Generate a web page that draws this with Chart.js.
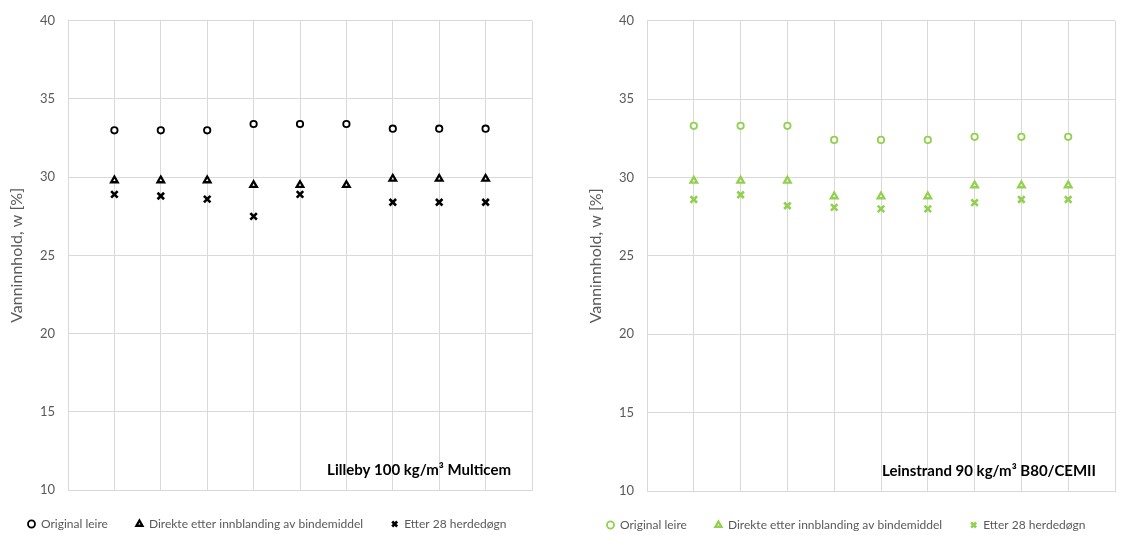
<!DOCTYPE html>
<html>
<head>
<meta charset="utf-8">
<script src="https://cdn.jsdelivr.net/npm/chart.js@4/dist/chart.umd.min.js"></script>
<style>
  html, body { margin: 0; padding: 0; background: #fff; overflow: hidden; width: 1124px; height: 535px; }
  canvas { position: absolute; top: 0; }
  #chart-lilleby { left: 0; }
  #chart-leinstrand { left: 579px; }
</style>
</head>
<body>
<canvas id="chart-lilleby" width="568" height="535"></canvas>
<canvas id="chart-leinstrand" width="568" height="535"></canvas>
<script>
// Water content (Vanninnhold) per sample, two stabilised clays side by side.

const sampleNo = [1, 2, 3, 4, 5, 6, 7, 8, 9];
const seriesNames = ['Original leire', 'Direkte etter innblanding av bindemiddel', 'Etter 28 herdedøgn'];
const yTicks = [10, 15, 20, 25, 30, 35, 40];

const lillebyOriginal = [33.0, 33.0, 33.0, 33.4, 33.4, 33.4, 33.1, 33.1, 33.1];
const lillebyDirekte  = [29.8, 29.8, 29.8, 29.5, 29.5, 29.5, 29.9, 29.9, 29.9];
const lillebyEtter28  = [28.9, 28.8, 28.6, 27.5, 28.9, null, 28.4, 28.4, 28.4];

const leinstrandOriginal = [33.3, 33.3, 33.3, 32.4, 32.4, 32.4, 32.6, 32.6, 32.6];
const leinstrandDirekte  = [29.8, 29.8, 29.8, 28.8, 28.8, 28.8, 29.5, 29.5, 29.5];
const leinstrandEtter28  = [28.6, 28.9, 28.2, 28.1, 28.0, 28.0, 28.4, 28.6, 28.6];

const FONT = 'Lato, "Open Sans", sans-serif';
const TEXT = '#595959';
const GRID = '#d9d9d9';

function pts(vals) {
  return sampleNo.map((x, i) => ({ x, y: vals[i] })).filter(p => p.y != null);
}

// small label in the lower right corner of the plot area
const cornerLabel = {
  id: 'cornerLabel',
  afterDraw(chart, args, opts) {
    const a = chart.chartArea, ctx = chart.ctx;
    ctx.save();
    ctx.font = 'bold 15px ' + FONT;
    ctx.fillStyle = '#000';
    ctx.textAlign = 'right';
    ctx.textBaseline = 'middle';
    ctx.fillText(opts.text, a.right - opts.dx, a.bottom - opts.dy);
    ctx.restore();
  }
};

// legend: fixed height so the plot keeps its size, and room for one row
const legendFit = {
  id: 'legendFit',
  beforeInit(chart, args, opts) {
    const lg = chart.legend;
    if (!lg) return;
    const fit = lg.fit;
    lg.fit = function () {
      const mw = this.maxWidth;
      this.maxWidth = mw + 120;
      fit.call(lg);
      this.maxWidth = mw;
      this.height = opts.h;
    };
  },
  afterLayout(chart) {
    const lg = chart.legend;
    if (!lg) return;
    lg.right = lg.left + chart.width + 120;
    lg.width = lg.right - lg.left;
  }
};

function makeChart(id, values, color, label, pad) {
  const styles = [
    { pointStyle: 'circle', radius: 3.2, borderWidth: 1.8, backgroundColor: '#fff' },
    { pointStyle: 'triangle', radius: 3.8, borderWidth: 2.3, backgroundColor: '#fff' },
    { pointStyle: 'crossRot', radius: 4.6, borderWidth: 2.6, backgroundColor: color }
  ];
  const datasets = values.map((v, i) => ({
    label: seriesNames[i],
    data: pts(v),
    showLine: false,
    pointStyle: styles[i].pointStyle,
    pointRadius: styles[i].radius,
    pointBorderWidth: styles[i].borderWidth,
    borderWidth: styles[i].borderWidth,
    borderColor: color,
    backgroundColor: styles[i].backgroundColor,
    pointBackgroundColor: styles[i].backgroundColor,
    pointBorderColor: color
  }));

  return new Chart(document.getElementById(id), {
    type: 'scatter',
    data: { datasets },
    plugins: [cornerLabel, legendFit],
    options: {
      responsive: false, animation: false, devicePixelRatio: 1,
      layout: { padding: { left: 0, right: pad.right, top: pad.top, bottom: 0 } },
      plugins: {
        tooltip: { enabled: false },
        cornerLabel: { text: label, dx: pad.labelDx, dy: 20 },
        legendFit: { h: pad.legendH },
        legend: {
          position: 'bottom', align: 'start',
          labels: {
            usePointStyle: true, pointStyleWidth: 7, boxHeight: 5,
            padding: 28, color: TEXT, font: { family: FONT, size: 12 }
          }
        }
      },
      scales: {
        x: {
          type: 'linear', min: 0, max: 10,
          ticks: { display: false, stepSize: 1 },
          grid: { color: GRID, drawTicks: false },
          border: { color: GRID },
          afterFit: s => { s.height = 0; }
        },
        y: {
          min: yTicks[0], max: yTicks[yTicks.length - 1],
          afterBuildTicks: s => { s.ticks = yTicks.map(v => ({ value: v })); },
          ticks: { color: TEXT, padding: 13, font: { family: FONT, size: 13 } },
          grid: { color: GRID, drawTicks: false },
          border: { color: GRID },
          title: {
            display: true, text: 'Vanninnhold, w [%]', color: TEXT,
            font: { family: FONT, size: 16 }, padding: { top: 7, bottom: 0 }
          },
          afterFit: s => { s.width = pad.axisW; }
        }
      }
    }
  });
}

makeChart('chart-lilleby', [lillebyOriginal, lillebyDirekte, lillebyEtter28], '#000000',
  'Lilleby 100 kg/m³ Multicem', { right: 36, top: 20, axisW: 68, legendH: 45, labelDx: 21 });
makeChart('chart-leinstrand', [leinstrandOriginal, leinstrandDirekte, leinstrandEtter28], '#92D050',
  'Leinstrand 90 kg/m³ B80/CEMII', { right: 32, top: 18, axisW: 68, legendH: 44, labelDx: 19 });
</script>
</body>
</html>
